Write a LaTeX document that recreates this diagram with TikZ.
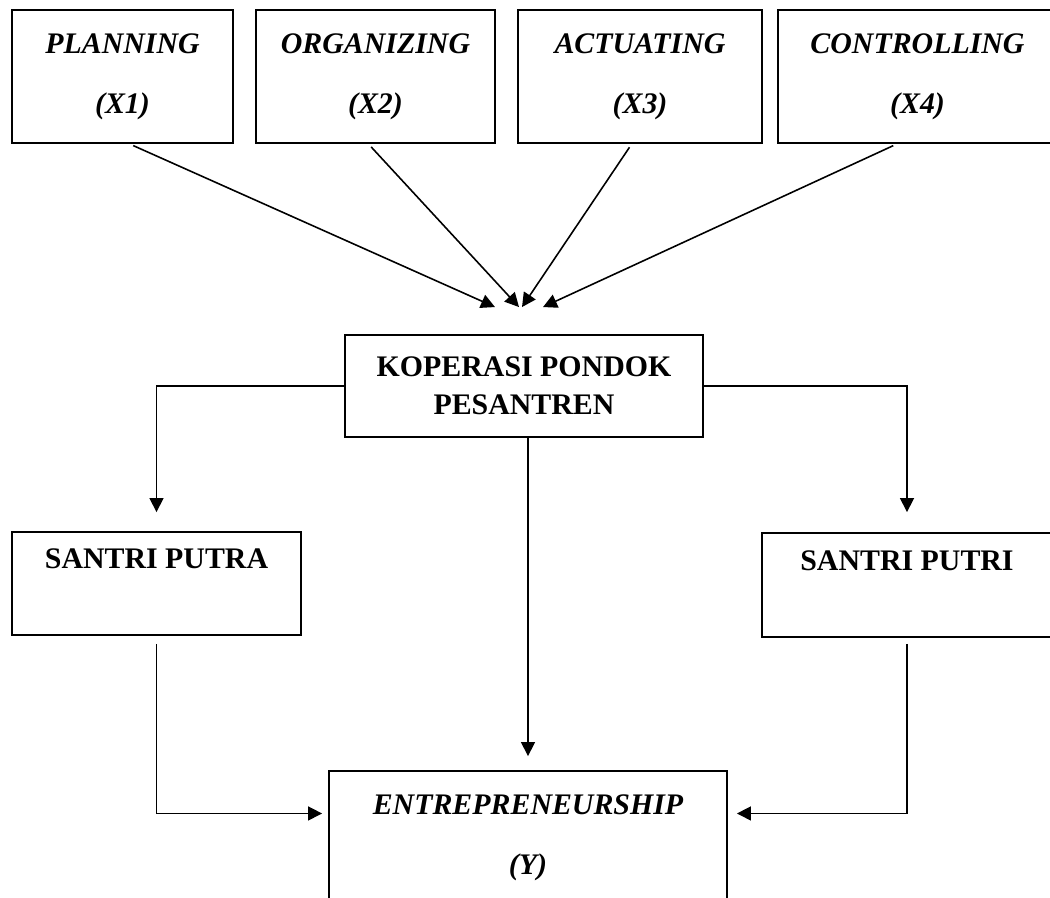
\documentclass[tikz,border=0pt]{standalone}
\usepackage{fontspec}
\setmainfont{Liberation Serif}
\usepackage{tikz}
\usetikzlibrary{arrows.meta,calc}
\definecolor{ink}{HTML}{000000}

\tikzset{
  box/.style={draw=ink, line width=1.1pt, inner sep=0pt, align=center, font=\fontsize{17}{21.5}\selectfont\bfseries},
  varbox/.style={box, font=\fontsize{17}{21.5}\selectfont\bfseries\itshape},
  link/.style={draw=ink, line width=0.9pt, ->},
}

\begin{document}
\begin{tikzpicture}[x=0.02cm, y=-0.02cm, >={Triangle[length=0.28cm, width=0.28cm]}]
    \useasboundingbox (0,0) rectangle (1050,897);
    % The four management functions across the top (X1..X4).
    \foreach \n/\cx/\w/\lab/\v in {b1/122.5/221/PLANNING/X1, b2/375.5/239/ORGANIZING/X2, b3/640/244/ACTUATING/X3, b4/917.5/279/CONTROLLING/X4} {
      \node[varbox, minimum width=\w*0.02cm, minimum height=2.66cm] (\n) at (\cx,76.5) {\lab\\[12.5pt](\v)};
    }
    % The cooperative in the middle.
    \node[box, minimum width=7.16cm, minimum height=2.04cm] (kop) at (524,386) {KOPERASI PONDOK\\PESANTREN};
    % The two groups of students.
    \node[box, minimum width=5.78cm, minimum height=2.06cm] (putra) at (156.5,583.5) {SANTRI PUTRA\\\strut};
    \node[box, minimum width=5.8cm, minimum height=2.08cm] (putri) at (907,585) {SANTRI PUTRI\\\strut};
    % The outcome, cut by the lower edge.
    \node[varbox, minimum width=7.96cm, minimum height=2.68cm] (ent) at (528,838) {ENTREPRENEURSHIP\\[12.5pt](Y)};
    % Where the four arrows meet above the cooperative.
    \coordinate (in1) at ($(kop.north)+(-29,-27)$);
    \coordinate (in2) at ($(kop.north)+(-5,-27)$);
    \coordinate (in3) at ($(kop.north)+(-2,-27)$);
    \coordinate (in4) at ($(kop.north)+(19,-27)$);
    \foreach \n/\a/\t in {b1/276/in1, b2/264/in2, b3/263/in3, b4/253/in4} {
      \draw[link, shorten <=0.08cm] (\n.\a) -- (\t);
    }
    % Cooperative to both groups and to the outcome.
    \draw[link, shorten >=0.38cm] (kop.west) -| (putra.north);
    \draw[link, shorten >=0.40cm] (kop.east) -| (putri.north);
    \draw[link, shorten >=0.28cm] (ent.north |- kop.south) -- (ent.north);
    % Both groups into the outcome.
    \draw[link, shorten <=0.16cm, shorten >=0.12cm] (putra.south) |- (ent.173);
    \draw[link, shorten <=0.12cm, shorten >=0.18cm] (putri.south) |- (ent.7);
\end{tikzpicture}
\end{document}
